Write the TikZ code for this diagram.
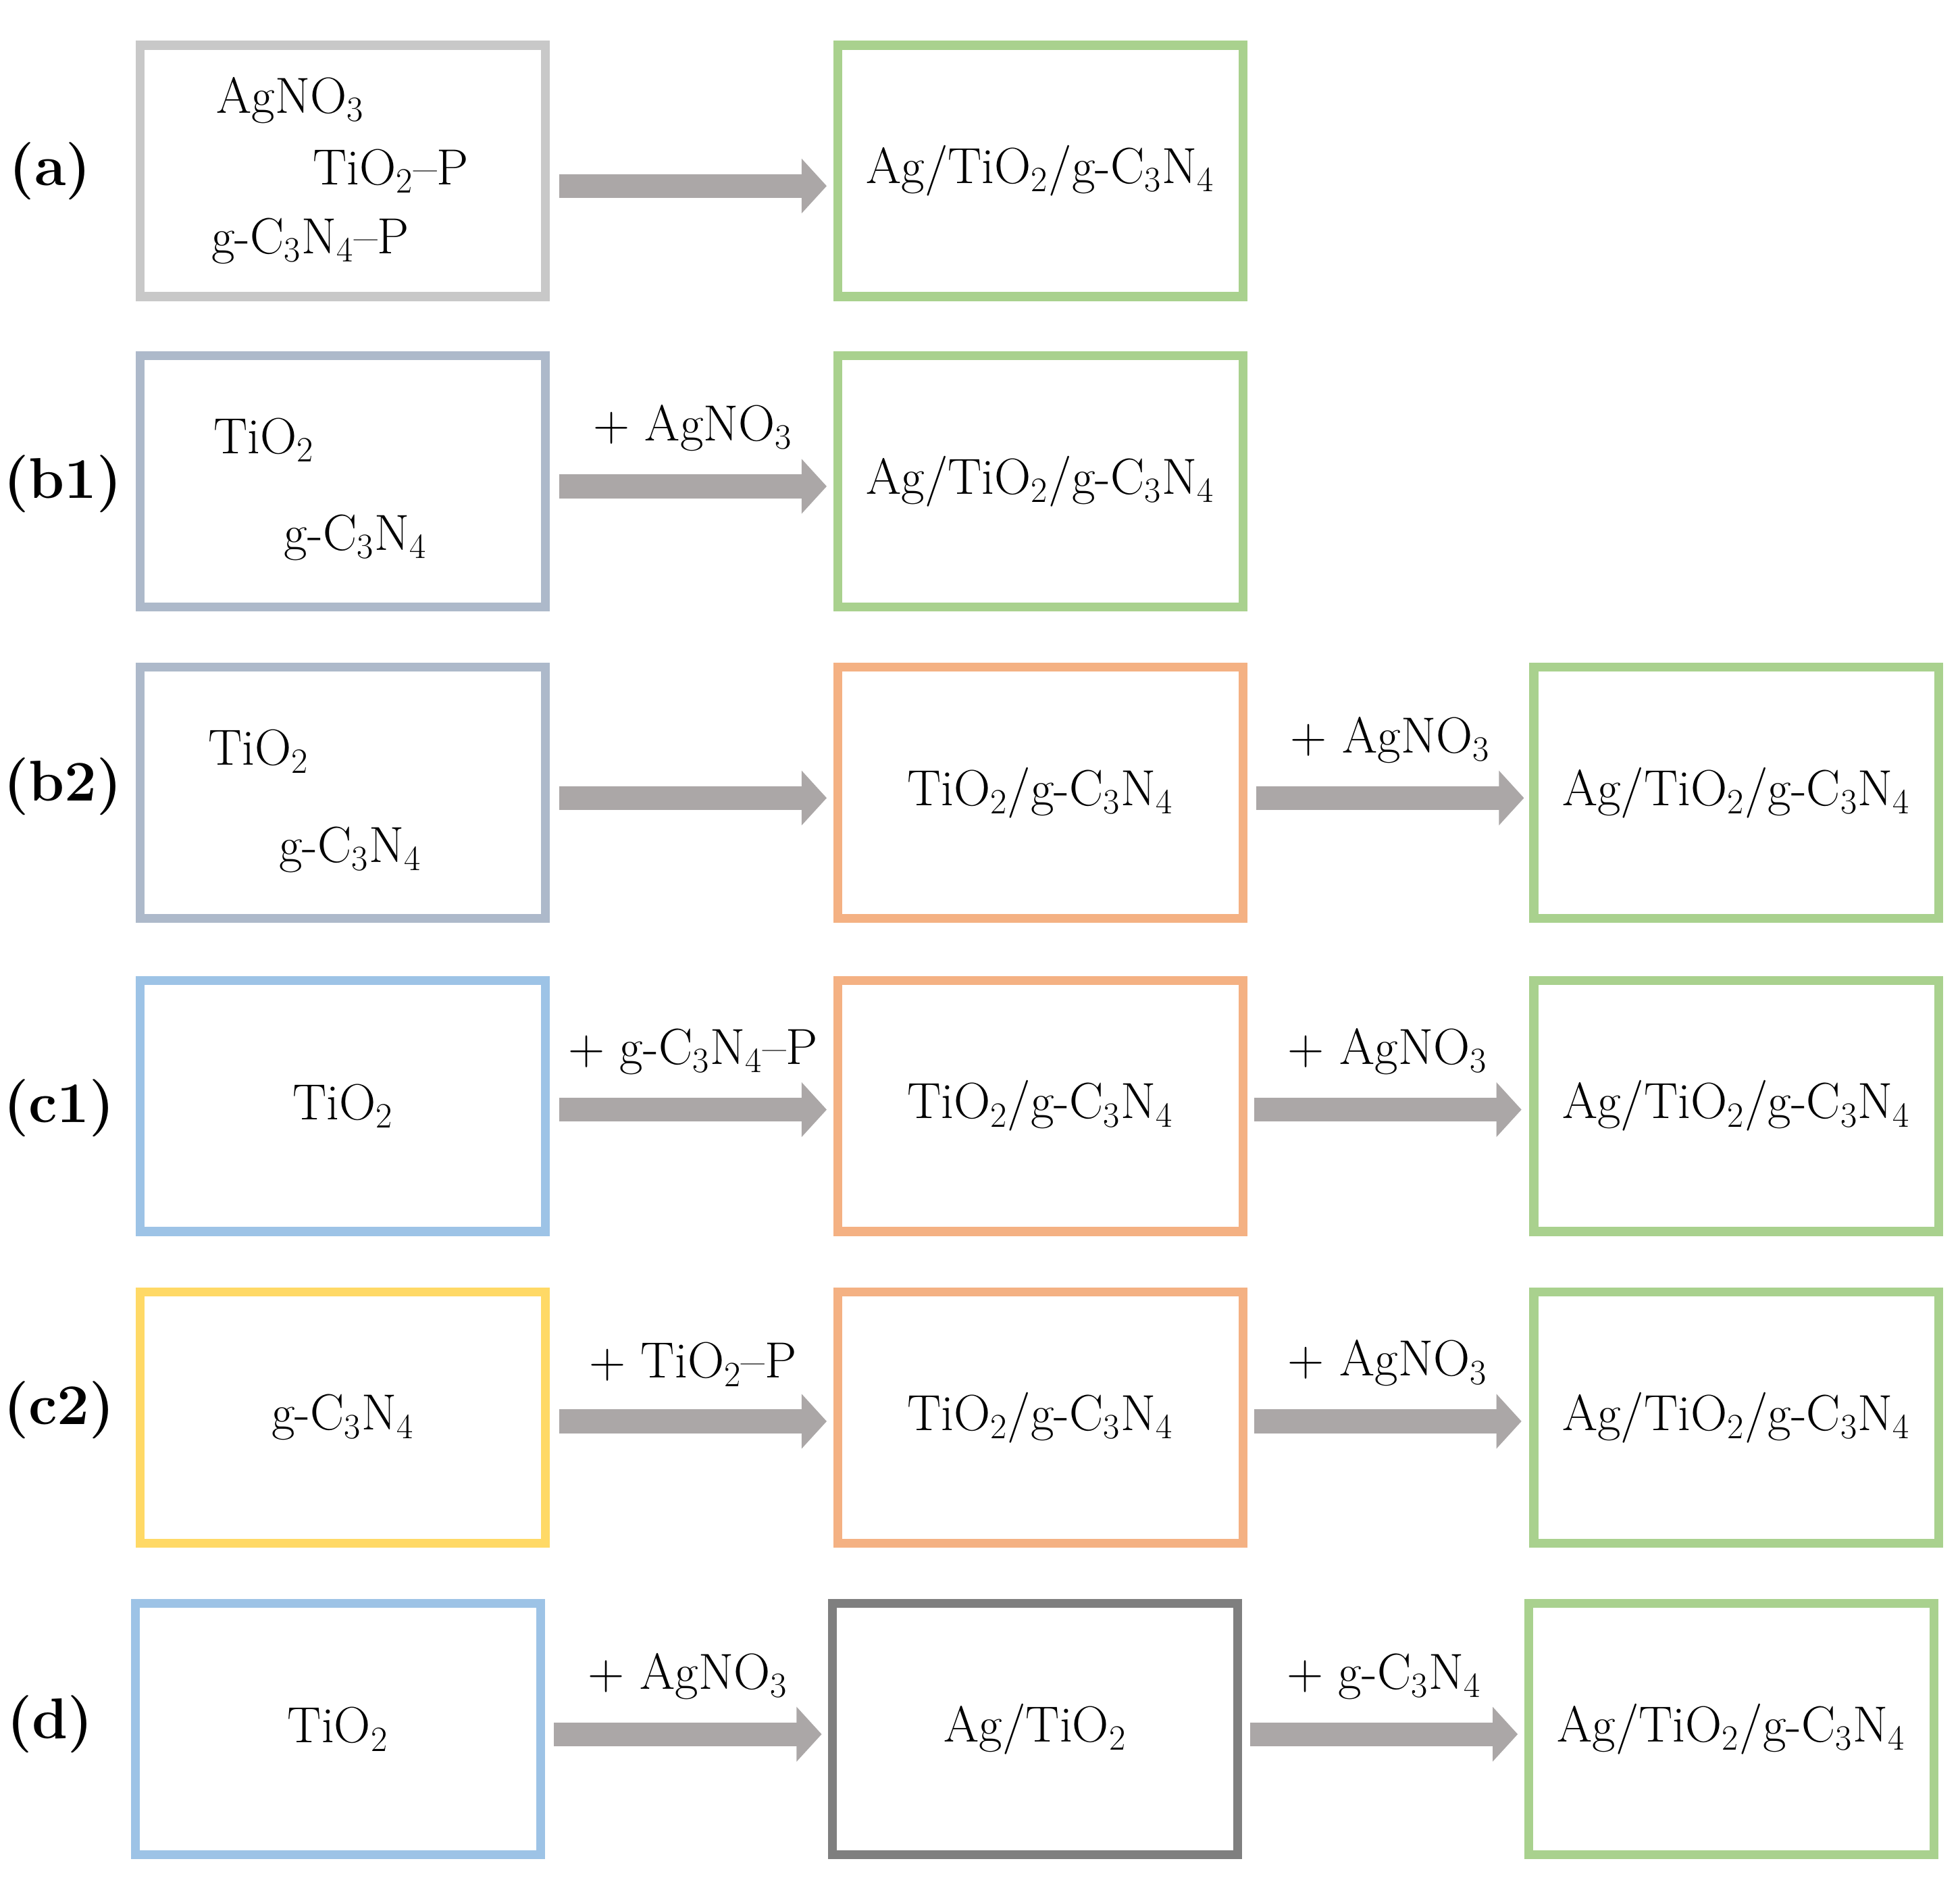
\documentclass[tikz,border=0pt]{standalone}
\usepackage{tikz}
\usetikzlibrary{arrows.meta}
\definecolor{cgray}{HTML}{C8C8C8}
\definecolor{cgreen}{HTML}{A9D18E}
\definecolor{cslate}{HTML}{ADB9CA}
\definecolor{corange}{HTML}{F4B183}
\definecolor{cblue}{HTML}{9DC3E6}
\definecolor{cyellow}{HTML}{FFD966}
\definecolor{cdark}{HTML}{7F7F7F}
\definecolor{carrow}{HTML}{ABA7A7}
\newcommand{\sub}[1]{\textsubscript{#1}}
\newcommand{\tio}{TiO\sub{2}}
\newcommand{\gcn}{g-C\sub{3}N\sub{4}}
\tikzset{
 box/.style={draw=#1,line width=4pt,minimum width=6.45cm,minimum height=4.0cm,inner sep=0pt},
 flow/.style={draw=carrow,line width=0.38cm,-{Triangle[length=0.4cm,width=0.85cm]}},
 lbl/.style={font=\fontsize{26}{30}\selectfont\bfseries},
}
\begin{document}
\begin{tikzpicture}[x=0.02cm,y=-0.02cm,font=\fontsize{23}{28}\selectfont]
\useasboundingbox (0,0) rectangle (1560,1494);
% row (a)
\node[lbl] (la) at (40,136) {(a)};
\node[box=cgray] (a1) at (273,136) {};
\node (a1t) at (231,80) {AgNO\sub{3}};
\node (a1m) at (311,136) {\tio--P};
\node (a1b) at (247,192) {\gcn--P};
\node[box=cgreen] (a2) at (828,136) {Ag/\tio/\gcn};
\coordinate (as) at (445,148); \coordinate (ae) at (658,148);
\draw[flow] (as) -- (ae);
% row (b1)
\node[lbl] (lb1) at (50,385) {(b1)};
\node[box=cslate] (b11) at (273,383) {};
\node (b11t) at (210,350) {\tio};
\node (b11b) at (283,428) {\gcn};
\node[box=cgreen] (b12) at (828,383) {Ag/\tio/\gcn};
\coordinate (b1s) at (445,387); \coordinate (b1e) at (658,387);
\draw[flow] (b1s) -- node[above=0.25cm] {+ AgNO\sub{3}} (b1e);
% row (b2)
\node[lbl] (lb2) at (50,626) {(b2)};
\node[box=cslate] (b21) at (273,631) {};
\node (b21t) at (206,598) {\tio};
\node (b21b) at (279,676) {\gcn};
\node[box=corange] (b22) at (828,631) {\tio/\gcn};
\node[box=cgreen] (b23) at (1382,631) {Ag/\tio/\gcn};
\coordinate (b2s) at (445,635); \coordinate (b2e) at (658,635);
\draw[flow] (b2s) -- (b2e);
\coordinate (b2s2) at (1000,635); \coordinate (b2e2) at (1213,635);
\draw[flow] (b2s2) -- node[above=0.25cm] {+ AgNO\sub{3}} (b2e2);
% row (c1)
\node[lbl] (lc1) at (47,882) {(c1)};
\node[box=cblue] (c11) at (273,880) {\tio};
\node[box=corange] (c12) at (828,880) {\tio/\gcn};
\node[box=cgreen] (c13) at (1382,880) {Ag/\tio/\gcn};
\coordinate (c1s) at (445,883); \coordinate (c1e) at (658,883);
\draw[flow] (c1s) -- node[above=0.25cm] {+ \gcn--P} (c1e);
\coordinate (c1s2) at (998,883); \coordinate (c1e2) at (1211,883);
\draw[flow] (c1s2) -- node[above=0.25cm] {+ AgNO\sub{3}} (c1e2);
% row (c2)
\node[lbl] (lc2) at (47,1122) {(c2)};
\node[box=cyellow] (c21) at (273,1128) {\gcn};
\node[box=corange] (c22) at (828,1128) {\tio/\gcn};
\node[box=cgreen] (c23) at (1382,1128) {Ag/\tio/\gcn};
\coordinate (c2s) at (445,1131); \coordinate (c2e) at (658,1131);
\draw[flow] (c2s) -- node[above=0.25cm] {+ \tio--P} (c2e);
\coordinate (c2s2) at (998,1131); \coordinate (c2e2) at (1211,1131);
\draw[flow] (c2s2) -- node[above=0.25cm] {+ AgNO\sub{3}} (c2e2);
% row (d)
\node[lbl] (ld) at (40,1372) {(d)};
\node[box=cblue] (d1) at (269,1376) {\tio};
\node[box=cdark] (d2) at (824,1376) {Ag/\tio};
\node[box=cgreen] (d3) at (1378,1376) {Ag/\tio/\gcn};
\coordinate (ds) at (441,1380); \coordinate (de) at (654,1380);
\draw[flow] (ds) -- node[above=0.25cm] {+ AgNO\sub{3}} (de);
\coordinate (ds2) at (995,1380); \coordinate (de2) at (1208,1380);
\draw[flow] (ds2) -- node[above=0.25cm] {+ \gcn} (de2);
\end{tikzpicture}
\end{document}
